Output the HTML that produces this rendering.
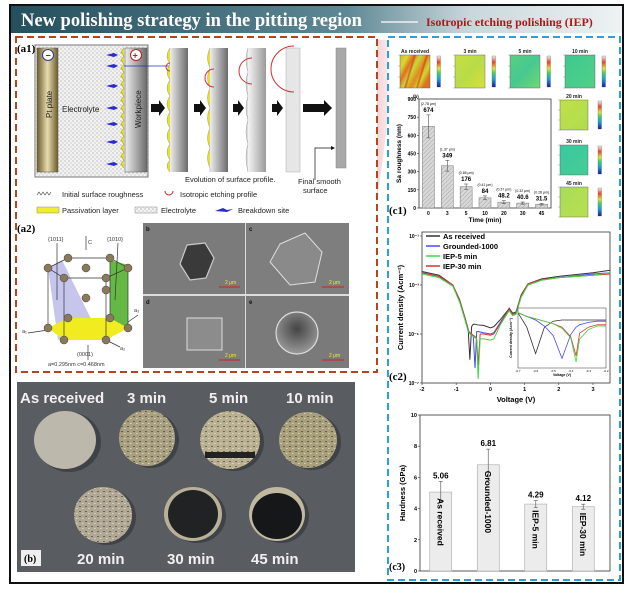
<!DOCTYPE html>
<html><head><meta charset="utf-8"><style>
html,body{margin:0;padding:0;background:#fff;}
svg{display:block;font-family:"Liberation Sans",sans-serif;}
.serif{font-family:"Liberation Serif",serif;font-weight:bold;}
</style></head><body>
<svg id="fig" width="631" height="594" viewBox="0 0 631 594" xmlns="http://www.w3.org/2000/svg">
<defs>
<linearGradient id="hdr" x1="0" x2="1"><stop offset="0" stop-color="#244f5d"/><stop offset="0.55" stop-color="#5f8895"/><stop offset="0.75" stop-color="#c9d7dc"/><stop offset="1" stop-color="#eef2f3"/></linearGradient>
<linearGradient id="pt" x1="0" x2="1"><stop offset="0" stop-color="#6b5a2a"/><stop offset="0.5" stop-color="#e8dcb0"/><stop offset="1" stop-color="#6b5a2a"/></linearGradient>
<linearGradient id="wp" x1="0" x2="1"><stop offset="0" stop-color="#eeeeee"/><stop offset="1" stop-color="#6a6a6a"/></linearGradient>
<linearGradient id="wp2" x1="0" x2="1"><stop offset="0" stop-color="#f4f4f4"/><stop offset="1" stop-color="#9a9a9a"/></linearGradient>
<linearGradient id="pink" x1="0" x2="1"><stop offset="0" stop-color="#e58a92"/><stop offset="1" stop-color="#fbe3e5"/></linearGradient>
<pattern id="dots" width="4" height="4" patternUnits="userSpaceOnUse"><rect width="4" height="4" fill="#f2f2f2"/><circle cx="1" cy="1" r="0.6" fill="#9a9a9a"/><circle cx="3" cy="3" r="0.6" fill="#b5b5b5"/></pattern>
<pattern id="hatch" width="3" height="3" patternUnits="userSpaceOnUse" patternTransform="rotate(45)"><rect width="3" height="3" fill="#d8d8d8"/><line x1="0" y1="0" x2="0" y2="3" stroke="#999" stroke-width="0.8"/></pattern>
<pattern id="speck" width="6" height="5" patternUnits="userSpaceOnUse"><rect width="6" height="5" fill="none"/><rect x="1" y="1" width="2" height="1" fill="#3a3628" opacity="0.6"/><rect x="4" y="3" width="1.5" height="1" fill="#f0ead0" opacity="0.7"/></pattern>
<linearGradient id="cbar" x1="0" y1="1" x2="0" y2="0"><stop offset="0" stop-color="#1a1aa0"/><stop offset="0.25" stop-color="#1aa0e0"/><stop offset="0.45" stop-color="#3ed06a"/><stop offset="0.6" stop-color="#e6e23a"/><stop offset="0.8" stop-color="#e8442a"/><stop offset="1" stop-color="#f4f4f4"/></linearGradient>
<linearGradient id="hm0" x1="0" y1="0" x2="1" y2="0.6"><stop offset="0" stop-color="#d8b828"/><stop offset="0.2" stop-color="#d8d830"/><stop offset="0.35" stop-color="#e07020"/><stop offset="0.5" stop-color="#c8d838"/><stop offset="0.7" stop-color="#e08820"/><stop offset="0.85" stop-color="#d0d830"/><stop offset="1" stop-color="#e07020"/></linearGradient>
<linearGradient id="hm1" x1="0" y1="0" x2="1" y2="1"><stop offset="0" stop-color="#c8e040"/><stop offset="0.5" stop-color="#b8dc48"/><stop offset="1" stop-color="#d8e038"/></linearGradient>
<linearGradient id="hm2" x1="0" y1="0" x2="1" y2="1"><stop offset="0" stop-color="#58d080"/><stop offset="0.5" stop-color="#48c890"/><stop offset="1" stop-color="#70d870"/></linearGradient>
<linearGradient id="hm3" x1="0" y1="0" x2="1" y2="1"><stop offset="0" stop-color="#40c890"/><stop offset="1" stop-color="#50d088"/></linearGradient>
<linearGradient id="hm4" x1="0" y1="0" x2="1" y2="1"><stop offset="0" stop-color="#c0e048"/><stop offset="1" stop-color="#b0dc50"/></linearGradient>
<linearGradient id="hm5" x1="0" y1="0" x2="1" y2="1"><stop offset="0" stop-color="#38c8a0"/><stop offset="1" stop-color="#48cc98"/></linearGradient>
<linearGradient id="hm6" x1="0" y1="0" x2="1" y2="1"><stop offset="0" stop-color="#a8dc58"/><stop offset="1" stop-color="#b8e050"/></linearGradient>
<radialGradient id="pit" cx="0.5" cy="0.4" r="0.6"><stop offset="0" stop-color="#444"/><stop offset="1" stop-color="#9a9a9a"/></radialGradient>
</defs>

<rect x="0" y="0" width="631" height="594" fill="#fff"/>
<rect x="10" y="5" width="613" height="578" fill="none" stroke="#111" stroke-width="2"/>
<rect x="11" y="6" width="611" height="27" fill="url(#hdr)"/>
<text x="21" y="26" class="serif" font-size="18.5" fill="#fff">New polishing strategy in the pitting region</text>
<line x1="381" y1="22" x2="418" y2="22" stroke="#fff" stroke-width="1.2"/>
<text x="426" y="26" class="serif" font-size="12" fill="#b01818">Isotropic etching polishing (IEP)</text>

<polygon points="366,40 388,40 388,120 354,370" fill="url(#pink)" opacity="0.8"/>

<rect x="16" y="37" width="361" height="335" fill="#fff" stroke="#b5441f" stroke-width="2" stroke-dasharray="7,4"/>
<text x="17" y="52" class="serif" font-size="11">(a1)</text>
<rect x="35" y="45" width="113" height="132" fill="url(#dots)" stroke="#777"/>
<rect x="37" y="48" width="21" height="124" fill="url(#pt)" stroke="#555" stroke-width="0.5"/>
<text transform="translate(52,118) rotate(-90)" font-size="8" fill="#222">Pt plate</text>
<circle cx="48" cy="55" r="5.5" fill="#fff" stroke="#2a3a9a"/><text x="45.5" y="58.5" font-size="9" font-weight="bold" fill="#2a3a9a">−</text>
<rect x="125" y="48" width="22" height="124" fill="url(#wp)" stroke="#555" stroke-width="0.5"/>
<polyline points="124,48 121,52 124,56 121,60 124,64 121,68 124,72 121,76 124,80 121,84 124,88 121,92 124,96 121,100 124,104 121,108 124,112 121,116 124,120 121,124 124,128 121,132 124,136 121,140 124,144 121,148 124,152 121,156 124,160 121,164 124,168" fill="#e8e020" stroke="#a8a010" stroke-width="0.6"/>
<text transform="translate(141,128) rotate(-90)" font-size="8" fill="#222">Workpiece</text>
<circle cx="136" cy="55" r="5.5" fill="#fff" stroke="#c02020"/><text x="132.5" y="58.5" font-size="9" font-weight="bold" fill="#c02020">+</text>
<text x="62" y="112" font-size="8" fill="#222">Electrolyte</text>
<g fill="#2a2ad0">
<path d="M106,55 l8,-2 l4,2 l-4,2 z"/><path d="M106,66 l8,-2 l4,2 l-4,2 z"/><path d="M106,86 l8,-2 l4,2 l-4,2 z"/><path d="M106,108 l8,-2 l4,2 l-4,2 z"/><path d="M106,124 l8,-2 l4,2 l-4,2 z"/><path d="M106,142 l8,-2 l4,2 l-4,2 z"/><path d="M106,164 l8,-2 l4,2 l-4,2 z"/>
</g>
<line x1="124" y1="66" x2="184" y2="66" stroke="#2a2ad0" stroke-width="0.8"/><polygon points="186,66 181,64 181,68" fill="#2a2ad0"/>
<g>
<rect x="170" y="48" width="18" height="124" fill="url(#wp)"/>
<path d="M170,48 q-6,8 0,16 q-6,8 0,16 q-6,8 0,16 q-6,8 0,16 q-6,8 0,16 q-6,8 0,16 q-6,8 0,16 q-6,6 0,12" fill="#e8e020" stroke="#999" stroke-width="0.5"/>
<rect x="210" y="48" width="18" height="124" fill="url(#wp)"/>
<path d="M210,48 q-5,10 0,20 q-5,10 0,20 q-5,10 0,20 q-5,10 0,20 q-5,10 0,20 q-5,10 0,20 l0,4" fill="#e8e020" stroke="#999" stroke-width="0.5"/>
<rect x="248" y="48" width="18" height="124" fill="url(#wp2)"/>
<path d="M248,48 q-4,12 0,24 q-4,12 0,24 q-4,12 0,24 q-4,12 0,24 q-4,12 0,28" fill="#ddd" stroke="#999" stroke-width="0.5"/>
<rect x="286" y="48" width="14" height="124" fill="#e6e6e6" stroke="#aaa" stroke-width="0.5"/>
<rect x="336" y="48" width="10" height="120" fill="#a8a8a8" stroke="#888" stroke-width="0.5"/>
</g>
<g fill="none" stroke="#d03030" stroke-width="1">
<path d="M170,63 a4,4 0 0 0 0,8"/><path d="M214,69 a9,9 0 0 0 0,18"/><path d="M252,58 a13,13 0 0 0 0,26"/><path d="M294,46 a20,20 0 0 0 0,46"/>
</g>
<g fill="#111">
<polygon points="151,104 159,104 159,100 165,108 159,116 159,112 151,112"/>
<polygon points="194,104 200,104 200,100 206,108 200,116 200,112 194,112"/>
<polygon points="233,104 238,104 238,100 244,108 238,116 238,112 233,112"/>
<polygon points="272,104 277,104 277,100 283,108 277,116 277,112 272,112"/>
<polygon points="303,104 324,104 324,100 332,108 324,116 324,112 303,112"/>
</g>
<polyline points="315,180 315,148 333,148" fill="none" stroke="#111" stroke-width="0.7"/><polygon points="335,148 331,146 331,150" fill="#111"/>
<text x="185" y="182" font-size="7.5" fill="#222">Evolution of surface profile.</text>
<text x="298" y="184" font-size="7.5" fill="#222">Final smooth</text>
<text x="303" y="193" font-size="7.5" fill="#222">surface</text>
<g font-size="7.5" fill="#222">
<polyline points="37,195 39,192 41,195 43,192 45,195 47,192 49,195 51,192" fill="none" stroke="#333" stroke-width="0.6"/>
<text x="62" y="197">Initial surface roughness</text>
<path d="M165,191 a4,4 0 0 0 8,0" fill="none" stroke="#c02020" stroke-width="1"/>
<text x="180" y="197">Isotropic etching profile</text>
<rect x="37" y="207" width="22" height="6" fill="#f0ec30" stroke="#888" stroke-width="0.5"/>
<text x="62" y="213">Passivation layer</text>
<rect x="135" y="207" width="22" height="6" fill="url(#dots)" stroke="#888" stroke-width="0.5"/>
<text x="161" y="213">Electrolyte</text>
<path d="M215,211 l8,-3 l4,2 l6,-1 l-6,3 z" fill="#2a2ad0"/>
<text x="238" y="213">Breakdown site</text>
</g>
<text x="17" y="232" class="serif" font-size="11">(a2)</text>
<g>
<polygon points="48,268 62,260 94,325 58,340" fill="#b8b8e8" opacity="0.8"/>
<polygon points="110,260 128,265 128,330 110,325" fill="#66b844"/>
<polygon points="48,328 68,318 110,318 128,328 106,340 64,340" fill="#f0ec20"/>
<g stroke="#333" stroke-width="0.7" fill="none">
<polygon points="48,268 68,258 110,258 128,268 106,278 64,278"/>
<line x1="48" y1="268" x2="48" y2="328"/><line x1="128" y1="268" x2="128" y2="328"/><line x1="64" y1="278" x2="64" y2="340"/><line x1="106" y1="278" x2="106" y2="340"/><line x1="110" y1="258" x2="110" y2="318"/>
<line x1="86" y1="250" x2="86" y2="236"/>
<line x1="28" y1="333" x2="48" y2="330"/><line x1="106" y1="340" x2="120" y2="347"/><line x1="128" y1="322" x2="138" y2="315"/>
<line x1="57" y1="300" x2="57" y2="243"/><line x1="115" y1="300" x2="118" y2="243"/><line x1="88" y1="345" x2="88" y2="360"/>
</g>
<g fill="#8a7a5a" stroke="#444" stroke-width="0.5">
<circle cx="48" cy="268" r="4"/><circle cx="68" cy="258" r="4"/><circle cx="110" cy="258" r="4"/><circle cx="128" cy="268" r="4"/><circle cx="106" cy="278" r="4"/><circle cx="64" cy="278" r="4"/><circle cx="86" cy="268" r="4"/>
<circle cx="48" cy="328" r="4"/><circle cx="128" cy="328" r="4"/><circle cx="106" cy="340" r="4"/><circle cx="64" cy="340" r="4"/><circle cx="110" cy="318" r="4"/><circle cx="86" cy="298" r="4"/><circle cx="106" cy="290" r="4"/><circle cx="68" cy="318" r="4"/>
</g>
<g font-size="5.5" fill="#333"><text x="48" y="241">{1011}</text><text x="88" y="244">C</text><text x="107" y="241">{1010}</text><text x="77" y="356">(0001)</text><text x="48" y="366">a=0.295nm   c=0.468nm</text><text x="22" y="333">a₁</text><text x="120" y="350">a₂</text><text x="134" y="312">a₃</text></g>
</g>
<g>
<rect x="143" y="223" width="206" height="145" fill="#dcdcdc"/>
<rect x="143" y="223" width="102" height="71" fill="#7b7b7b"/><rect x="246" y="223" width="103" height="71" fill="#7e7e7e"/>
<rect x="143" y="296" width="102" height="72" fill="#7d7d7d"/><rect x="246" y="296" width="103" height="72" fill="#7a7a7a"/>
<polygon points="187,245 205,243 214,258 206,278 190,280 180,264" fill="#3a3a3a" stroke="#ccc" stroke-width="1.2"/>
<polygon points="280,244 305,233 322,252 315,282 290,285 270,262" fill="#8a8a8a" stroke="#ddd" stroke-width="1"/>
<rect x="187" y="318" width="35" height="32" fill="#8c8c8c" stroke="#ddd" stroke-width="1"/>
<circle cx="297" cy="333" r="21" fill="url(#pit)" stroke="#ddd" stroke-width="1.2"/>
<g font-size="6" font-weight="bold" fill="#111"><text x="146" y="231">b</text><text x="249" y="231">c</text><text x="146" y="304">d</text><text x="249" y="304">e</text></g>
<g font-size="5" fill="#ee3"><text x="225" y="284">2 μm</text><text x="329" y="284">2 μm</text><text x="225" y="357">2 μm</text><text x="329" y="357">2 μm</text></g>
<g stroke="#d02020" stroke-width="1"><line x1="219" y1="287" x2="240" y2="287"/><line x1="322" y1="287" x2="344" y2="287"/><line x1="219" y1="360" x2="240" y2="360"/><line x1="322" y1="360" x2="344" y2="360"/></g>
</g>

<g>
<rect x="17" y="382" width="338" height="190" fill="#595c61"/>
<ellipse cx="69" cy="442" rx="32" ry="30" fill="#2f3134" opacity="0.6"/>
<ellipse cx="65" cy="440" rx="31" ry="29" fill="#bdb8ac"/>
<ellipse cx="151" cy="440" rx="28" ry="28" fill="#2f3134" opacity="0.6"/>
<ellipse cx="147" cy="438" rx="28" ry="28" fill="#a8a080"/>
<ellipse cx="147" cy="438" rx="28" ry="28" fill="url(#speck)"/>
<ellipse cx="234" cy="442" rx="30" ry="29" fill="#2f3134" opacity="0.6"/>
<ellipse cx="230" cy="440" rx="30" ry="29" fill="#b8b090"/>
<ellipse cx="230" cy="440" rx="30" ry="29" fill="url(#speck)"/>
<rect x="205" y="452" width="50" height="6" fill="#222"/>
<ellipse cx="312" cy="442" rx="29" ry="28" fill="#2f3134" opacity="0.6"/>
<ellipse cx="308" cy="440" rx="29" ry="28" fill="#a8a07c"/>
<ellipse cx="308" cy="440" rx="29" ry="28" fill="url(#speck)"/>
<ellipse cx="107" cy="517" rx="29" ry="28" fill="#2f3134" opacity="0.6"/>
<ellipse cx="103" cy="515" rx="29" ry="28" fill="#b0a894"/>
<ellipse cx="103" cy="515" rx="29" ry="28" fill="url(#speck)"/>
<ellipse cx="197" cy="516" rx="29" ry="27" fill="#2f3134" opacity="0.6"/>
<ellipse cx="193" cy="514" rx="29" ry="27" fill="#b8b098"/>
<ellipse cx="193" cy="514" rx="25" ry="24" fill="#202224"/>
<ellipse cx="281" cy="516" rx="28" ry="27" fill="#2f3134" opacity="0.6"/>
<ellipse cx="277" cy="514" rx="28" ry="27" fill="#c0b8a0"/>
<ellipse cx="277" cy="516" rx="25" ry="23" fill="#161718"/>
<g font-size="15" font-weight="bold" fill="#f0f0f0">
<text x="20" y="403">As received</text>
<text x="127" y="403">3 min</text><text x="209" y="403">5 min</text><text x="286" y="403">10 min</text>
<text x="77" y="564">20 min</text><text x="167" y="564">30 min</text><text x="251" y="564">45 min</text>
</g>
<rect x="21" y="550" width="20" height="16" fill="#eee"/>
<text x="24" y="562" class="serif" font-size="10">(b)</text>
</g>

<rect x="388" y="37" width="232" height="543" fill="none" stroke="#2aa0e0" stroke-width="2" stroke-dasharray="7,4"/>

<g id="c1"></g>
<g id="c2"></g>
<g id="c3"></g>
</svg>
<script>
const NS="http://www.w3.org/2000/svg";
function el(p,tag,attrs,txt){const e=document.createElementNS(NS,tag);for(const k in attrs)e.setAttribute(k,attrs[k]);if(txt!==undefined)e.textContent=txt;p.appendChild(e);return e;}

const c1Categories=["0","3","5","10","20","30","45"];
const c1Values=[674,349,176,84,48.2,40.6,31.5];
const c1Errors=[95,45,22,16,12,9,7];
const c1UmLabels=["(2.78 μm)","(1.37 μm)","(0.65 μm)","(0.41 μm)","(0.37 μm)","(0.32 μm)","(0.28 μm)"];
const c1Ticks=[0,150,300,450,600,750,900];
const mapTitles=["As received","3 min","5 min","10 min","20 min","30 min","45 min"];

const c2Series=["As received","Grounded-1000","IEP-5 min","IEP-30 min"];
const c2Voltage=[-2,-1.5,-1.1,-0.9,-0.75,-0.65,-0.6,-0.55,-0.5,-0.45,-0.4,-0.36,-0.3,-0.2,0,0.1,0.3,0.5,0.55,0.65,0.75,0.9,1.1,1.5,2,3,3.5];
const c2Black=[-2.45,-2.6,-3.0,-3.6,-4.3,-4.8,-6.05,-4.7,-4.6,-4.6,-4.62,-4.63,-4.64,-4.65,-4.75,-4.7,-4.4,-4.05,-3.95,-4.15,-4.1,-3.4,-2.95,-2.75,-2.65,-2.5,-2.4];
const c2Blue=[-2.5,-2.65,-3.0,-3.65,-4.35,-4.85,-4.95,-5.0,-5.1,-6.39,-4.9,-4.9,-4.92,-4.95,-5.0,-4.95,-4.5,-4.1,-4.0,-4.2,-4.15,-3.45,-3.0,-2.8,-2.7,-2.55,-2.5];
const c2Green=[-2.55,-2.7,-3.05,-3.7,-4.4,-4.9,-5.0,-5.05,-5.1,-5.15,-5.2,-6.84,-5.2,-5.2,-5.25,-5.2,-4.6,-4.15,-4.05,-4.25,-4.2,-3.5,-3.0,-2.8,-2.7,-2.6,-2.5];
const c2Red=[-2.5,-2.65,-3.0,-3.65,-4.35,-4.85,-4.95,-5.0,-5.05,-5.1,-5.2,-6.27,-5.0,-5.0,-5.05,-5.0,-4.55,-4.1,-4.0,-4.2,-4.15,-3.45,-2.95,-2.78,-2.7,-2.6,-2.55];
const c2XTicks=[-2,-1,0,1,2,3];
const c2YTicks=[-1,-3,-5,-7];
const c2YLabels=["10⁻¹","10⁻³","10⁻⁵","10⁻⁷"];
const insetVoltage=[-0.7,-0.65,-0.6,-0.55,-0.5,-0.45,-0.4,-0.37,-0.35,-0.3,-0.25,-0.2];
const insetBlack=[-2.4,-3.6,-5.8,-3.6,-3.1,-3.0,-3.0,-3.0,-3.0,-3.0,-3.0,-3.0];
const insetBlue=[-2.4,-2.7,-3.0,-3.5,-4.3,-6.2,-4.2,-3.6,-3.4,-3.2,-3.1,-3.1];
const insetGreen=[-2.4,-2.7,-2.9,-3.1,-3.3,-3.7,-4.5,-6.5,-4.6,-3.8,-3.5,-3.5];
const insetRed=[-2.4,-2.7,-2.9,-3.1,-3.3,-3.6,-4.4,-6.0,-4.1,-3.6,-3.4,-3.4];

const c3Categories=["As received","Grounded-1000","IEP-5 min","IEP-30 min"];
const c3Values=[5.06,6.81,4.29,4.12];
const c3Errors=[0.68,1.0,0.22,0.16];
const c3Ticks=[0,2,4,6,8,10];

(function(){
const g=document.getElementById('c1');
const maps=[[400,55,30,33,437],[455,55,30,33,492],[510,55,30,33,547],[565,55,30,33,602],[560,100,28,30,598],[560,145,28,30,598],[560,187,28,30,598]];
maps.forEach((m,i)=>{
 const r=el(g,'rect',{x:m[0],y:m[1],width:m[2],height:m[3],fill:'url(#hm'+i+')',stroke:'#555','stroke-width':0.4});
 
 
 const cb=el(g,'rect',{x:m[4],y:m[1]+1,width:3.5,height:m[3]-2,fill:'url(#cbar)',stroke:'#555','stroke-width':0.3});
 
 
 const t=el(g,'text',{x:m[0]+m[2]/2,y:m[1]-2,'font-size':5,'font-weight':'bold','text-anchor':'middle',fill:'#222'},mapTitles[i]);
 
 
 for(let k=0;k<4;k++){el(g,'line',{x1:m[0]-2,x2:m[0],y1:m[1]+k*m[3]/3,y2:m[1]+k*m[3]/3,stroke:'#555','stroke-width':0.3});}
});
{const s=maps[0];el(g,'line',{x1:s[0]+5,y1:s[1]+33,x2:s[0]+15,y2:s[1],stroke:'#d04020','stroke-width':2,opacity:0.6});el(g,'line',{x1:s[0]+17,y1:s[1]+33,x2:s[0]+27,y2:s[1],stroke:'#d04020','stroke-width':2,opacity:0.6});}
const L=419,R=551,T=99,B=208,yMax=900;
const y=v=>B-(v/yMax)*(B-T);
const bw=(R-L)/c1Categories.length;
const x=i=>L+bw*(i+0.5);
el(g,'rect',{x:L,y:T,width:R-L,height:B-T,fill:'#fff',stroke:'#333','stroke-width':0.8});
c1Ticks.forEach(t=>{el(g,'line',{x1:L-2,x2:L,y1:y(t),y2:y(t),stroke:'#333','stroke-width':0.6});el(g,'text',{x:L-3,y:y(t)+2,'font-size':5,'font-weight':'bold','text-anchor':'end'},t);});
c1Values.forEach((v,i)=>{
 const b=el(g,'rect',{x:x(i)-6,y:y(v),width:12,height:B-y(v),fill:'url(#hatch)',stroke:'#777','stroke-width':0.5});
 
 
 const e=c1Errors[i];
 el(g,'line',{x1:x(i),x2:x(i),y1:y(v+e),y2:y(v-e),stroke:'#555','stroke-width':0.6});
 el(g,'line',{x1:x(i)-2,x2:x(i)+2,y1:y(v+e),y2:y(v+e),stroke:'#555','stroke-width':0.6});
 el(g,'line',{x1:x(i)-2,x2:x(i)+2,y1:y(v-e),y2:y(v-e),stroke:'#555','stroke-width':0.6});
 el(g,'text',{x:x(i),y:y(v+e)-3,'font-size':6,'font-weight':'bold','text-anchor':'middle'},v);
 el(g,'text',{x:x(i),y:y(v+e)-10,'font-size':3.5,'text-anchor':'middle'},c1UmLabels[i]);
 el(g,'text',{x:x(i),y:B+7,'font-size':5,'font-weight':'bold','text-anchor':'middle'},c1Categories[i]);
});
el(g,'text',{x:(L+R)/2,y:B+14,'font-size':6.5,'font-weight':'bold','text-anchor':'middle'},'Time (min)');
el(g,'text',{transform:'translate(401,'+((T+B)/2)+') rotate(-90)','font-size':6.5,'font-weight':'bold','text-anchor':'middle'},'Sa roughness (nm)');
el(g,'text',{x:L-6,y:T-1,'font-size':4.5,'font-weight':'bold'},'(b)');
el(g,'text',{x:389,y:214,'font-size':11,'class':'serif'},'(c1)');
})();

(function(){
const g=document.getElementById('c2');
const L=422,R=610,T=232,B=383;
const x=v=>L+(v+2)*34.2;
const y=l=>236+(-1-l)*24.5;
el(g,'rect',{x:L,y:T,width:R-L,height:B-T,fill:'#fff',stroke:'#333','stroke-width':0.8});
c2XTicks.forEach(t=>{el(g,'line',{x1:x(t),x2:x(t),y1:B,y2:B+2,stroke:'#333','stroke-width':0.6});el(g,'text',{x:x(t),y:B+8,'font-size':5.5,'font-weight':'bold','text-anchor':'middle'},t);});
c2YTicks.forEach((t,i)=>{el(g,'line',{x1:L-2,x2:L,y1:y(t),y2:y(t),stroke:'#333','stroke-width':0.6});el(g,'text',{x:L-3,y:y(t)+2,'font-size':5,'font-weight':'bold','text-anchor':'end'},c2YLabels[i]);});
const cols=['#333','#4a4aee','#3ed83e','#e03030'];
const data=[c2Black,c2Blue,c2Green,c2Red];
const order=[0,1,3,2];
order.forEach(k=>{
 const p=el(g,'polyline',{points:c2Voltage.map((v,i)=>x(v)+','+y(data[k][i])).join(' '),fill:'none',stroke:cols[k],'stroke-width':1});
 
 
});
c2Series.forEach((s,i)=>{
 el(g,'line',{x1:426,x2:440,y1:236+i*10,y2:236+i*10,stroke:cols[i],'stroke-width':1.5});
 const t=el(g,'text',{x:443,y:239+i*10,'font-size':7.5,'font-weight':'bold'},s);
 
 
});
el(g,'text',{x:(L+R)/2,y:B+19,'font-size':7.5,'font-weight':'bold','text-anchor':'middle'},'Voltage (V)');
el(g,'text',{transform:'translate(403,'+((T+B)/2)+') rotate(-90)','font-size':7.5,'font-weight':'bold','text-anchor':'middle'},'Current density (Acm⁻²)');
el(g,'text',{x:389,y:380,'font-size':11,'class':'serif'},'(c2)');
const iL=518,iR=606,iT=308,iB=368;
const ix=v=>iL+(v+0.7)/0.5*(iR-iL);
const iy=l=>iT+(-2-l)/5*(iB-iT);
const ib=el(g,'rect',{x:iL,y:iT,width:iR-iL,height:iB-iT,fill:'#fff',stroke:'#333','stroke-width':0.5});


const idata=[insetBlack,insetBlue,insetGreen,insetRed];
order.forEach(k=>{el(g,'polyline',{points:insetVoltage.map((v,i)=>ix(v)+','+iy(idata[k][i])).join(' '),fill:'none',stroke:cols[k],'stroke-width':0.8});});
[-0.7,-0.6,-0.5,-0.4,-0.3,-0.2].forEach(t=>el(g,'text',{x:ix(t),y:iB+4,'font-size':3,'text-anchor':'middle'},t));
el(g,'text',{x:(iL+iR)/2,y:iB+8,'font-size':3.5,'font-weight':'bold','text-anchor':'middle'},'Voltage (V)');
el(g,'text',{transform:'translate('+(iL-6)+','+((iT+iB)/2)+') rotate(-90)','font-size':3.5,'font-weight':'bold','text-anchor':'middle'},'Current density (Acm⁻²)');
})();

(function(){
const g=document.getElementById('c3');
const L=420,R=610,T=415,B=571,yMax=10;
const y=v=>B-(v/yMax)*(B-T);
const bw=(R-L)/c3Categories.length;
const x=i=>L+bw*(i+0.5)-3;
el(g,'rect',{x:L,y:T,width:R-L,height:B-T,fill:'#fff',stroke:'#333','stroke-width':0.8});
c3Ticks.forEach(t=>{el(g,'line',{x1:L-2,x2:L,y1:y(t),y2:y(t),stroke:'#333','stroke-width':0.6});el(g,'text',{x:L-3,y:y(t)+2,'font-size':5.5,'font-weight':'bold','text-anchor':'end'},t);});
c3Values.forEach((v,i)=>{
 const b=el(g,'rect',{x:x(i)-11,y:y(v),width:22,height:B-y(v),fill:'#ececec',stroke:'#aaa','stroke-width':0.6});
 
 
 const e=c3Errors[i];
 el(g,'line',{x1:x(i),x2:x(i),y1:y(v+e),y2:y(v-e),stroke:'#666','stroke-width':0.7});
 el(g,'line',{x1:x(i)-2,x2:x(i)+2,y1:y(v+e),y2:y(v+e),stroke:'#666','stroke-width':0.7});
 el(g,'line',{x1:x(i)-2,x2:x(i)+2,y1:y(v-e),y2:y(v-e),stroke:'#666','stroke-width':0.7});
 el(g,'text',{x:x(i),y:y(v+e)-3,'font-size':8,'font-weight':'bold','text-anchor':'middle'},v.toFixed(2));
 el(g,'text',{transform:'translate('+(x(i)-3.5)+','+(y(v)+6)+') rotate(90)','font-size':8.5,'font-weight':'bold'},c3Categories[i]);
});
el(g,'text',{transform:'translate(405,'+((T+B)/2)+') rotate(-90)','font-size':7.5,'font-weight':'bold','text-anchor':'middle'},'Hardness (GPa)');
el(g,'text',{x:389,y:570,'font-size':10,'class':'serif'},'(c3)');
})();
</script>
</body></html>
